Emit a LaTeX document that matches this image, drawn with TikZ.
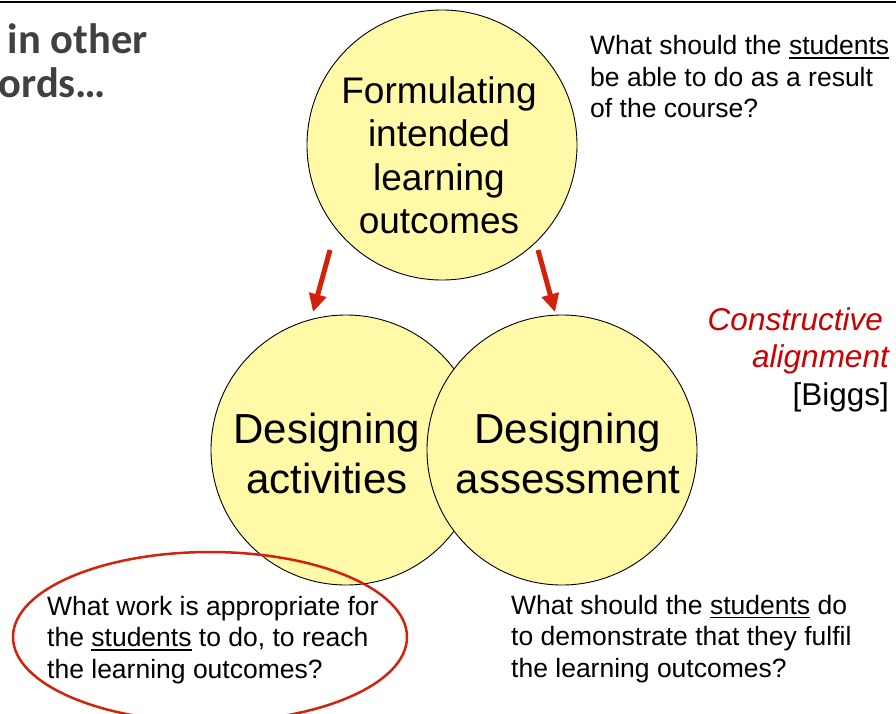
\documentclass[tikz,border=0pt]{standalone}
\usepackage{fontspec}
\setmainfont{Liberation Sans}
\newfontfamily\headfont{Carlito}
\usetikzlibrary{arrows.meta,shapes.geometric}

\definecolor{discfill}{RGB}{255,249,168}
\definecolor{alarm}{RGB}{212,34,10}
\definecolor{quote}{RGB}{204,0,0}
\definecolor{headgray}{RGB}{64,64,64}

% underlined word with a rule that scales with the picture
\newcommand\ulword[1]{\setbox0\hbox{#1}\rlap{\rule[-4.3pt]{\wd0}{1.7pt}}\box0\relax}

\begin{document}
\begin{tikzpicture}[x=1pt,y=-1pt,
  disc/.style={circle,draw=black,line width=0.9pt,fill=discfill,minimum size=270pt,inner sep=0pt},
  disctext/.style={align=center,inner sep=0pt,anchor=north},
  question/.style={align=left,inner sep=0pt,anchor=north west,font=\fontsize{26.5}{31.5}\selectfont},
  pointer/.style={-{Triangle[width=17pt,length=18pt]},line width=5pt,draw=alarm},
  ring/.style={ellipse,draw=alarm,line width=2.5pt,minimum width=394pt,minimum height=170pt,inner sep=0pt}]

\useasboundingbox (0,0) rectangle (896,713);

% rule along the top edge
\coordinate (ruleL) at (0,2.2);
\coordinate (ruleR) at (896,2.2);
\draw[line width=2.3pt] (ruleL) -- (ruleR);

% heading fragment
\node[anchor=north west,inner sep=0pt,align=left,text=headgray,
      font=\headfont\bfseries\fontsize{42.5}{44}\selectfont] (heading) at (-1.5,23.5)
      {\hspace*{9pt}in other\\ords…};

% the three discs
\node[disc] (outcomes) at (442,145) {};
\node[disc] (activities) at (346,450) {};
\node[disc] (assessment) at (562,450) {};

\node[disctext,font=\fontsize{37}{43.3}\selectfont] (outcomesT) at (439,76.5)
      {Formulating\\intended\\learning\\outcomes};
\node[disctext,font=\fontsize{42}{50}\selectfont] (activitiesT) at (327,413)
      {Designing\\activities};
\node[disctext,font=\fontsize{42}{50}\selectfont] (assessmentT) at (568,413)
      {Designing\\assessment};

% arrows from the outcomes disc
\coordinate (leftFrom) at (330,250);
\coordinate (leftTo) at (313,312);
\coordinate (rightFrom) at (538,250);
\coordinate (rightTo) at (555,312);
\draw[pointer] (leftFrom) -- (leftTo);
\draw[pointer] (rightFrom) -- (rightTo);

% guiding questions
\node[question] (qOutcomes) at (590,35.2)
      {What should the \ulword{students}\\be able to do as a result\\of the course?};
\node[question] (qActivities) at (47,595.7)
      {What work is appropriate for\\the \ulword{students} to do, to reach\\the learning outcomes?};
\node[question] (qAssessment) at (511,594.7)
      {What should the \ulword{students} do\\to demonstrate that they fulfil\\the learning outcomes?};

% highlight around the activities question
\node[ring] (highlight) at (210,637) {};

% side note
\node[anchor=north east,inner sep=0pt,align=right,font=\fontsize{31.5}{37.5}\selectfont] (note) at (889,307.4)
      {\textcolor{quote}{\itshape Constructive}\hspace*{6pt}\\\textcolor{quote}{\itshape alignment}\hspace*{1pt}\\{}[Biggs]};

\end{tikzpicture}
\end{document}
